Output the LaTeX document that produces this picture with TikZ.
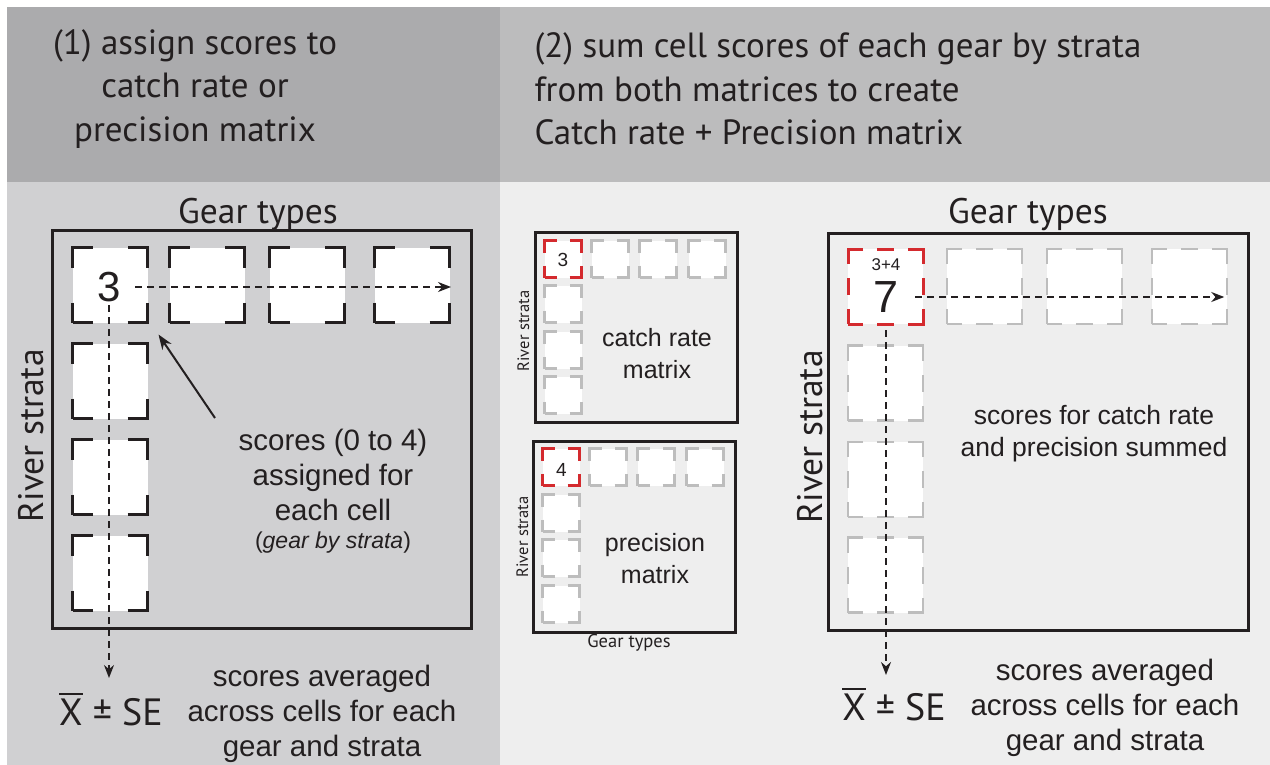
\documentclass[tikz,border=0pt]{standalone}
\usepackage{fontspec}
\setmainfont{Liberation Sans}
\newfontfamily\myr{PT Sans}
\usetikzlibrary{arrows.meta}

\newcommand\fs[2]{\fontsize{#1}{#2}\selectfont}
% X with a bar over it
\newcommand\barX{\leavevmode\setbox0\hbox{X}\rlap{\rule[\dimexpr\ht0+3pt\relax]{\wd0}{2pt}}\box0}

\definecolor{headL}{HTML}{ABABAD}
\definecolor{headR}{HTML}{BCBCBD}
\definecolor{bodyL}{HTML}{D0D0D2}
\definecolor{bodyR}{HTML}{EEEEEE}
\definecolor{cellgray}{HTML}{BDBDBD}
\definecolor{cellred}{HTML}{D42A2E}
\definecolor{ink}{HTML}{231F20}

\tikzset{
  frame/.style={draw=ink, line width=3pt},
  bigcell/.style={draw=ink, fill=white, line width=3pt, minimum size=75pt,
    inner sep=0pt, dash pattern=on 40pt off 35pt, dash phase=20pt},
  smallcell/.style={draw=cellgray, fill=white, line width=2.5pt, minimum size=37pt,
    inner sep=0pt, dash pattern=on 24pt off 13pt, dash phase=12pt},
  sumcell/.style={draw=cellgray, fill=white, line width=2.5pt, minimum size=75pt,
    inner sep=0pt, dash pattern=on 30pt off 14pt on 17pt off 14pt, dash phase=15pt},
  hot/.style={draw=cellred, line width=3pt},
  flow/.style={draw=ink, line width=1.5pt, dash pattern=on 7pt off 5pt,
    -{Stealth[length=13pt,width=10pt]}},
  pointer/.style={draw=ink, line width=2pt, -{Stealth[length=15pt,width=11pt]}},
  headtxt/.style={text=ink, font=\myr\fs{35}{43.5}},
  axis/.style={text=ink, font=\myr\fs{35.5}{38}},
  smallaxis/.style={text=ink, font=\myr\fs{16.5}{18}},
  body/.style={text=ink, font=\fs{29.5}{35}, align=center},
  stat/.style={text=ink, font=\myr\fs{38}{40}, anchor=base},
}

\begin{document}
\begin{tikzpicture}[x=1pt, y=-1pt]
\useasboundingbox (0,0) rectangle (1270,765);
\fill[white] (0,0) rectangle (1270,765);

% panel backgrounds
\fill[headL] (7,7) rectangle (500,182);
\fill[headR] (500,7) rectangle (1270,182);
\fill[bodyL] (7,182) rectangle (500,765);
\fill[bodyR] (500,182) rectangle (1270,765);

% headings
\node[headtxt, align=center] (h1) at (195,89)
  {(1) assign scores to\\catch rate or\\precision matrix};
\node[headtxt, align=left, anchor=west] (h2) at (531,89)
  {(2) sum cell scores of each gear by strata\\from both matrices to create\\Catch rate + Precision matrix};

% ---------- step 1: single score matrix ----------
\draw[frame] (52,230) rectangle (471,628);
\node[axis, anchor=base] (gt1) at (258,223) {Gear types};
\node[axis, rotate=90, anchor=base] (rs1) at (43,436) {River strata};

\foreach \i/\x in {1/110,2/207,3/307,4/412}
  \node[bigcell] (a1\i) at (\x,285) {};
\foreach \i/\y in {2/381,3/477,4/573}
  \node[bigcell] (a\i1) at (110,\y) {};

\node[text=ink, font=\fs{42}{42}] (v3) at (109,287) {3};

\node[body] (t1) at (333,475) {scores (0 to 4)\\assigned for\\each cell};
\node[text=ink, font=\fs{23}{26}] (t1b) at (333,543) {(\textit{gear by strata})};

\node[stat] (xse1) at (111,725) {\barX{} ± SE};
\node[body] (t2) at (322,714) {scores averaged\\across cells for each\\gear and strata};

\coordinate (a1down) at (109,678);
\coordinate (ptr) at (215,418);
\draw[flow] ([xshift=11pt]v3.east) -- (a14.east |- v3.east);
\draw[flow] (v3.south) -- (a1down);
\draw[pointer] (ptr) -- ([shift={(9.5pt,-10.5pt)}]a11.south east);

% ---------- step 2: the two source matrices ----------
\draw[frame] (535,232) rectangle (737,422);
\foreach \i/\x in {1/563,2/610,3/658,4/707}
  \node[smallcell] (b1\i) at (\x,259) {};
\foreach \i/\y in {2/304,3/350,4/395}
  \node[smallcell] (b\i1) at (563,\y) {};
\node[smallcell, hot] at (b11) {};
\node[text=ink, font=\fs{19}{19}] (s3) at (563,260) {3};
\node[body, font=\fs{25}{32}] (cr) at (657,354) {catch rate\\matrix};
\node[smallaxis, rotate=90, anchor=base] (rs2) at (529,331) {River strata};

\draw[frame] (533,441) rectangle (735,632);
\foreach \i/\x in {1/561,2/608,3/656,4/705}
  \node[smallcell] (p1\i) at (\x,467) {};
\foreach \i/\y in {2/513,3/558,4/604}
  \node[smallcell] (p\i1) at (561,\y) {};
\node[smallcell, hot] at (p11) {};
\node[text=ink, font=\fs{19}{19}] (s4) at (561.5,470) {4};
\node[body, font=\fs{25}{32}] (pm) at (655,559) {precision\\matrix};
\node[smallaxis, rotate=90, anchor=base] (rs3) at (528,537) {River strata};
\node[text=ink, font=\myr\fs{18.5}{20}] (gt3) at (629,643) {Gear types};

% ---------- step 2: summed matrix ----------
\draw[frame] (828,233) rectangle (1248,630);
\node[axis, anchor=base] (gt2) at (1028,223) {Gear types};
\node[axis, rotate=90, anchor=base] (rs4) at (822,437) {River strata};

\foreach \i/\x in {1/885.5,2/984.5,3/1084.5,4/1189.5}
  \node[sumcell] (c1\i) at (\x,286.5) {};
\foreach \i/\y in {2/383,3/479.5,4/575}
  \node[sumcell] (c\i1) at (885.5,\y) {};
\node[sumcell, hot] at (c11) {};

\node[text=ink, font=\fs{17}{17}] (v34) at (886,265) {3+4};
\node[text=ink, font=\fs{45}{45}] (v7) at (886,297) {7};

\node[body, font=\fs{26.5}{32}] (t3) at (1094,434) {scores for catch rate\\and precision summed};

\node[stat] (xse2) at (894,720) {\barX{} ± SE};
\node[body] (t4) at (1105,708) {scores averaged\\across cells for each\\gear and strata};

\coordinate (c1down) at (886,675);
\draw[flow] ([xshift=13pt]v7.east) -- ([xshift=-4pt]c14.east |- v7.east);
\draw[flow] ([yshift=-14pt]v7.south) -- (c1down);
\end{tikzpicture}
\end{document}
